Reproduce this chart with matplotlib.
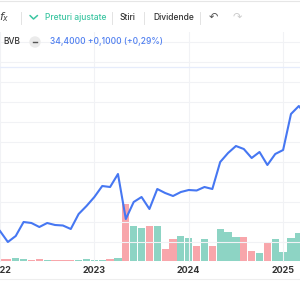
import numpy as np
import matplotlib
matplotlib.use("Agg")
import matplotlib.pyplot as plt
from matplotlib.patches import Circle

plt.rcParams['font.family'] = ['Inter', 'DejaVu Sans']

# monthly closes (adjusted), Jan 2022 .. Apr 2025
close = [21.1, 20.0, 20.6, 22.0, 21.9, 21.5, 21.9, 21.7, 21.65, 21.3, 22.8, 23.6,
         24.5, 25.6, 25.5, 26.8, 22.3, 24.0, 24.5, 23.3, 25.3, 24.9, 24.6, 25.0,
         25.2, 25.15, 25.5, 25.3, 28.0, 28.9, 29.6, 29.3, 28.4, 29.0, 27.7, 28.8,
         29.2, 32.8, 33.6, 32.6]

# monthly volume (arbitrary units) and direction of the month
volume = [20, 20, 33, 17, 10, 17, 7, 10, 15, 7, 10, 20,
          15, 10, 20, 27, 570, 353, 330, 350, 350, 120, 217, 253,
          230, 153, 220, 153, 323, 290, 240, 237, 100, 77, 177, 220,
          90, 233, 283]
direction = ['down', 'down', 'up', 'up', 'down', 'down', 'up', 'down', 'down', 'down', 'up', 'up',
             'up', 'up', 'down', 'up', 'down', 'up', 'up', 'down', 'up', 'down', 'down', 'up',
             'up', 'down', 'up', 'down', 'up', 'up', 'up', 'down', 'down', 'up', 'down', 'up',
             'up', 'up', 'up']

year_ticks = [0, 12, 24, 36]
year_labels = ['2022', '2023', '2024', '2025']

blue = '#4677f2'
green = '#8dd4c4'
pink = '#f8a6ab'
grid_c = '#f1f2f5'

fig = plt.figure(figsize=(3, 3), dpi=100)

# main chart area: pixel rows 32..262
ax = fig.add_axes([0, 1 - 262 / 300, 1, (262 - 32) / 300])
px_month = 95 / 12
ax.set_xlim(2 / px_month, 302 / px_month)

vol = ax.twinx()
colors = [green if d == 'up' else pink for d in direction]
vol.bar(np.arange(len(volume)), volume, width=0.92, color=colors, zorder=1)
vol.set_ylim(-10, 2290)
vol.axis('off')

ax.set_zorder(vol.get_zorder() + 1)
ax.patch.set_visible(False)
ax.plot(np.arange(len(close)), close, color=blue, lw=1.5, solid_joinstyle='round', zorder=3)
ax.set_ylim(18, 41)
ax.set_yticks(np.arange(18, 41, 2))
ax.set_xticks(year_ticks)
ax.set_xticklabels(year_labels, fontsize=6.5, fontweight='bold', color='#333333')
ax.tick_params(axis='x', length=0, pad=3)
ax.tick_params(axis='y', length=0, labelleft=False)
ax.grid(True, color=grid_c, lw=0.8)
for s in ax.spines.values():
    s.set_visible(False)

# overlay for header / toolbar in pixel coordinates
ui = fig.add_axes([0, 0, 1, 1], zorder=10)
ui.set_xlim(0, 300)
ui.set_ylim(300, 0)
ui.axis('off')
ui.patch.set_visible(False)

ui.axhline(1, color='#e6e6e6', lw=0.8)
ui.axhline(279, color='#eeeeee', lw=0.8)
ui.plot([0, 300], [66.7, 66.7], color='#e6ecfb', lw=0.9)

ui.text(-1, 17.5, r'$f_x$', fontsize=8, color='#444444', va='center', ha='left')
for sx in [21, 112, 144, 200]:
    ui.plot([sx, sx], [11.5, 24], color='#e3e3e3', lw=0.7)
ui.plot([30, 33.5, 37.5], [15.5, 19, 15.5], color='#3cc6a2', lw=1.1, solid_capstyle='round')
ui.text(45, 17.5, 'Preturi ajustate', fontsize=6.1, fontweight='medium', color='#3cc6a2', va='center', ha='left')
ui.text(120, 17.5, 'Stiri', fontsize=6.1, fontweight='medium', color='#333333', va='center', ha='left')
ui.text(153, 17.5, 'Dividende', fontsize=6.1, fontweight='medium', color='#333333', va='center', ha='left')
ui.text(213, 17, '\u21b6', fontsize=8, color='#555555', va='center', ha='center', family='DejaVu Sans')
ui.text(237, 17, '\u21b7', fontsize=8, color='#cccccc', va='center', ha='center', family='DejaVu Sans')

ui.text(3, 42, 'BVB', fontsize=6.1, fontweight='medium', color='#333333', va='center', ha='left')
ui.add_patch(Circle((35, 42), 5, color='#ebebeb'))
ui.plot([33, 37], [42, 42], color='#555555', lw=1)
ui.text(50, 42, '34,4000 +0,1000 (+0,29%)', fontsize=6.1, fontweight='medium', color='#4f7ff0', va='center', ha='left')

fig.savefig('out.png', dpi=100)
